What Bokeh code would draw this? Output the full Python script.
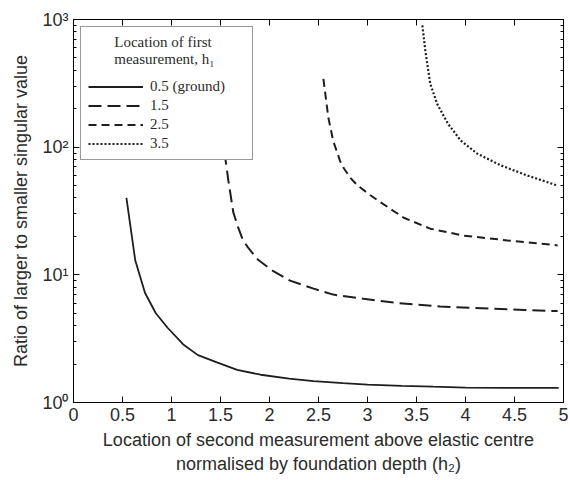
from bokeh.plotting import figure
from bokeh.models import (Legend, LegendItem, FixedTicker, LinearAxis, LogAxis,
                          CustomJSTickFormatter, Range1d)
from bokeh.embed import file_html
from bokeh.resources import INLINE

# ---- data ----
h05_x = [0.54, 0.63, 0.73, 0.84, 0.96, 1.12, 1.27, 1.47, 1.67, 1.91, 2.2, 2.45,
         2.75, 3.0, 3.35, 3.67, 4.0, 4.43, 4.7, 4.95]
h05_y = [40, 13, 7.2, 5.0, 3.85, 2.85, 2.35, 2.05, 1.8, 1.65, 1.54, 1.47,
         1.42, 1.38, 1.35, 1.33, 1.31, 1.3, 1.3, 1.3]

h15_x = [1.54, 1.58, 1.63, 1.68, 1.73, 1.78, 1.88, 2.03, 2.21, 2.45, 2.65, 2.96,
         3.31, 3.74, 4.26, 4.6, 4.94]
h15_y = [92, 55, 31, 23.5, 18.6, 16.4, 13.2, 10.8, 9.0, 7.8, 7.0, 6.5,
         6.0, 5.65, 5.45, 5.3, 5.2]

h25_x = [2.55, 2.6, 2.65, 2.72, 2.76, 2.83, 2.9, 3.03, 3.1, 3.37, 3.64, 3.98, 4.43, 4.94]
h25_y = [343, 171, 112, 78, 68, 57, 50, 42, 38.5, 28, 23, 20.3, 18.6, 17]

h35_x = [3.56, 3.59, 3.64, 3.71, 3.82, 3.95, 4.12, 4.36, 4.63, 4.94]
h35_y = [900, 570, 315, 219, 153, 113, 89, 72, 60, 50]

series_labels = ["0.5 (ground)", "1.5", "2.5", "3.5"]
title_lines = ["Location of first", "measurement, h\u2081"]
x_ticks = [0, 0.5, 1, 1.5, 2, 2.5, 3, 3.5, 4, 4.5, 5]
y_ticks = [1, 10, 100, 1000]
y_minor = [m * d for d in (1, 10, 100) for m in range(2, 10)]

TXT = "#2b2b2b"
LINE = "#1e1e1e"

p = figure(width=570, height=480, x_range=Range1d(0, 5), y_range=Range1d(1, 1000),
           y_axis_type="log", output_backend="svg", toolbar_location=None,
           min_border_left=73, min_border_right=7, min_border_top=19,
           min_border_bottom=78)
p.xgrid.visible = False
p.ygrid.visible = False
p.outline_line_color = "black"
p.outline_line_width = 1

r05 = p.line(h05_x, h05_y, line_color=LINE, line_width=1.8)
r15 = p.line(h15_x, h15_y, line_color=LINE, line_width=2, line_dash="13 6")
r25 = p.line(h25_x, h25_y, line_color=LINE, line_width=2, line_dash="8 5")
r35 = p.line(h35_x, h35_y, line_color=LINE, line_width=2.2, line_dash="2 2")

def style(ax):
    ax.axis_line_color = "black"
    ax.major_tick_in = 6
    ax.major_tick_out = 0
    ax.minor_tick_in = 3
    ax.minor_tick_out = 0
    ax.major_tick_line_color = "black"
    ax.minor_tick_line_color = "black"
    ax.major_label_text_font = "Liberation Sans"
    ax.major_label_text_font_size = "18px"
    ax.major_label_text_color = TXT
    ax.axis_label_text_font = "Liberation Sans"
    ax.axis_label_text_font_size = "18px"
    ax.axis_label_text_font_style = "normal"
    ax.axis_label_text_color = TXT

xfmt = CustomJSTickFormatter(code="return String(tick);")
yfmt = CustomJSTickFormatter(code="""
const sup = {'0':'\u2070','1':'\u00b9','2':'\u00b2','3':'\u00b3'};
const e = Math.round(Math.log10(tick));
return '10' + sup[String(e)];
""")
blank = CustomJSTickFormatter(code="return '';")

xa = p.xaxis[0]
style(xa)
xa.ticker = FixedTicker(ticks=x_ticks, minor_ticks=[])
xa.formatter = xfmt
xa.major_label_standoff = 5
xa.axis_label_standoff = 6
xa.axis_label = "Location of second measurement above elastic centre\nnormalised by foundation depth (h\u2082)"

ya = p.yaxis[0]
style(ya)
ya.ticker = FixedTicker(ticks=y_ticks, minor_ticks=y_minor)
ya.formatter = yfmt
ya.major_label_standoff = 5
ya.axis_label_standoff = 8
ya.axis_label = "Ratio of larger to smaller singular value"

top = LinearAxis(ticker=FixedTicker(ticks=x_ticks, minor_ticks=[]), formatter=blank)
style(top)
top.major_label_text_font_size = "1px"
top.major_label_standoff = 0
p.add_layout(top, "above")

right = LogAxis(ticker=FixedTicker(ticks=y_ticks, minor_ticks=y_minor), formatter=blank)
style(right)
right.major_label_text_font_size = "1px"
right.major_label_standoff = 0
p.add_layout(right, "right")

NB = "\u00a0" * 7
legend = Legend(items=[LegendItem(label=series_labels[0], renderers=[r05]),
                       LegendItem(label=series_labels[1], renderers=[r15]),
                       LegendItem(label=series_labels[2], renderers=[r25]),
                       LegendItem(label=series_labels[3], renderers=[r35])],
                location="top_left",
                title=NB + title_lines[0] + "\n\u200b" + NB + title_lines[1])
legend.title_text_font = "Liberation Serif"
legend.title_text_font_size = "15px"
legend.title_text_font_style = "normal"
legend.title_text_color = TXT
legend.title_standoff = 10
legend.label_text_font = "Liberation Serif"
legend.label_text_font_size = "15px"
legend.label_text_color = TXT
legend.glyph_width = 55
legend.glyph_height = 15
legend.label_height = 15
legend.label_width = 95
legend.label_standoff = 7
legend.spacing = 2
legend.padding = 7
legend.margin = 7
legend.border_line_color = "#333333"
legend.border_line_width = 1
legend.background_fill_color = "white"
legend.background_fill_alpha = 1
p.add_layout(legend)

open("out.html", "w").write(file_html(p, INLINE))
